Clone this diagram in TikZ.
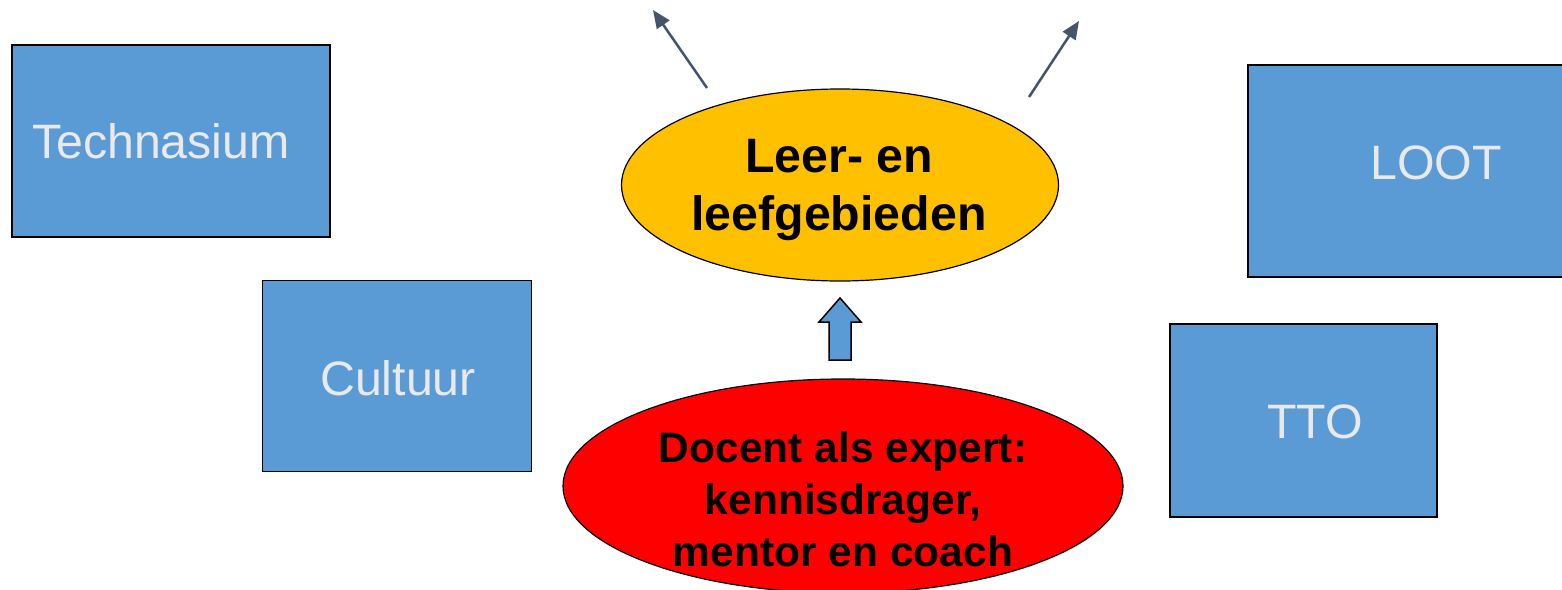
\documentclass[tikz,border=0pt]{standalone}
\usepackage{fontspec}
\setmainfont{Liberation Sans}
\usetikzlibrary{shapes.geometric,arrows.meta}
\definecolor{boxblue}{HTML}{5B9BD5}
\definecolor{boxtext}{HTML}{E9E9E9}
\definecolor{gold}{HTML}{FFC000}
\definecolor{slate}{HTML}{44546A}
\tikzset{
  bluebox/.style={draw=black, line width=1.5pt, fill=boxblue, text=boxtext, inner sep=0pt, font=\fontsize{48.3}{54}\selectfont},
  boxlabel/.style={text=boxtext, font=\fontsize{48.3}{54}\selectfont, inner sep=0pt},
  ell/.style={draw=black, line width=1.2pt, ellipse, inner sep=0pt},
  boldtext/.style={font=\bfseries\fontsize{48.3}{58}\selectfont, align=center, inner sep=0pt},
  redtext/.style={font=\bfseries\fontsize{42.5}{52}\selectfont, align=center, inner sep=0pt},
  upar/.style={-{Triangle[length=18pt,width=15pt]}, line width=2.5pt, draw=slate},
  blockarrow/.style={draw=black, line width=1.5pt, fill=boxblue}
}
\begin{document}
\begin{tikzpicture}[x=1pt,y=-1pt]
\clip (0,0) rectangle (1562,589);
\fill[white] (0,0) rectangle (1562,589);
% blue boxes
\node[bluebox, minimum width=318pt, minimum height=192pt, text width=278pt, align=left] (tech) at (171,141) {Technasium};
\node[bluebox, minimum width=269pt, minimum height=191pt] (cult) at (397,376) {};
\node[boxlabel] (culttext) at (398,378) {Cultuur};
\node[bluebox, minimum width=376pt, minimum height=212pt] (loot) at (1436,171) {};
\node[boxlabel] (loottext) at (1436,163) {LOOT};
\node[bluebox, minimum width=267pt, minimum height=193pt] (tto) at (1303.5,420.5) {};
\node[boxlabel] (ttotext) at (1315,422) {TTO};
% yellow ellipse
\node[ell, fill=gold, minimum width=437pt, minimum height=192pt] (leer) at (840,185) {};
\node[boldtext] (leertext) at (839,190) {Leer- en\\leefgebieden};
% red ellipse
\node[ell, fill=red, minimum width=560pt, minimum height=214pt] (doc) at (843,486) {};
\node[redtext] (doctext) at (843,499) {Docent als expert:\\kennisdrager,\\ mentor en coach};
% block arrow
\draw[blockarrow] (829,360) -- (829,322) -- (819,322) -- (840,298) -- (861,322) -- (851,322) -- (851,360) -- cycle;
% top arrows
\coordinate (l1) at (707,88);
\coordinate (l2) at (653,10);
\coordinate (r1) at (1029,97);
\coordinate (r2) at (1079,21);
\draw[upar] (l1) -- (l2);
\draw[upar] (r1) -- (r2);
\end{tikzpicture}
\end{document}
